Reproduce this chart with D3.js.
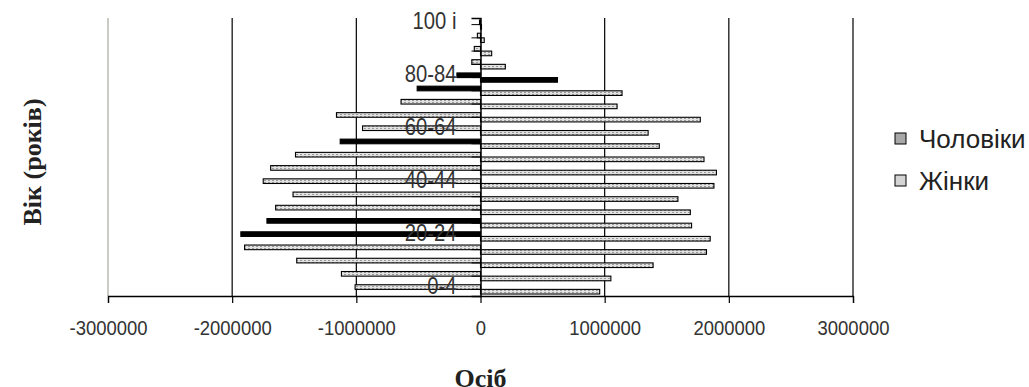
<!DOCTYPE html>
<html lang="uk">
<head>
  <meta charset="UTF-8">
  <title>Вікова піраміда</title>
  <script src="https://d3js.org/d3.v7.min.js"></script>
  <style>
    body { margin: 0; background: #fff; }
    svg { display: block; font-family: 'Liberation Sans', Arial, sans-serif; }
  </style>
</head>
<body>
  <div id="chart"></div>
  <script>
    // age groups, bottom to top
    const ageGroups = ["0-4", "5-9", "10-14", "15-19", "20-24", "25-29", "30-34", "35-39",
      "40-44", "45-49", "50-54", "55-59", "60-64", "65-69", "70-74", "75-79",
      "80-84", "85-89", "90-94", "95-99", "100 і"];
    // men plotted as negative values
    const men = [-1010000, -1120000, -1480000, -1900000, -1930000, -1720000, -1650000, -1510000,
      -1750000, -1690000, -1490000, -1130000, -950000, -1160000, -640000, -510000,
      -190000, -70000, -50000, -25000, -8000];
    const women = [960000, 1050000, 1390000, 1820000, 1850000, 1700000, 1690000, 1590000,
      1880000, 1900000, 1800000, 1440000, 1350000, 1770000, 1100000, 1140000,
      620000, 200000, 90000, 30000, 8000];
    const xTicks = [-3000000, -2000000, -1000000, 0, 1000000, 2000000, 3000000];
    const seriesNames = ["Чоловіки", "Жінки"];

    const W = 1029, H = 387;
    const plot = { left: 108, right: 853, top: 18, bottom: 296 };
    const squeeze = 0.88; // the source picture is a bit narrowed

    const svg = d3.select("#chart").append("svg")
      .attr("width", W).attr("height", H);

    // hatched fill like the old spreadsheet pattern
    const defs = svg.append("defs");
    const pat = defs.append("pattern").attr("id", "hatch")
      .attr("width", 4).attr("height", 2).attr("patternUnits", "userSpaceOnUse");
    pat.append("rect").attr("width", 4).attr("height", 2).attr("fill", "#e2e2e2");
    pat.append("rect").attr("width", 2).attr("height", 1).attr("fill", "#9a9a9a");

    const x = d3.scaleLinear()
      .domain([-3000000, 3000000])
      .range([plot.left, plot.right]);

    const y = d3.scaleBand()
      .domain(ageGroups)
      .range([plot.bottom, plot.top])
      .paddingInner(0.3)
      .paddingOuter(0.15);

    const sub = d3.scaleBand()
      .domain(seriesNames)
      .range([0, y.bandwidth()]);

    // vertical gridlines
    svg.append("g").selectAll("line")
      .data(xTicks.filter(d => d !== 0))
      .join("line")
      .attr("x1", d => x(d)).attr("x2", d => x(d))
      .attr("y1", plot.top).attr("y2", plot.bottom)
      .attr("stroke", d => d === -3000000 ? "#a9a79c" : "#000")
      .attr("stroke-width", 1.2);

    // bars
    const darkMen = [4, 5, 11, 15, 16];
    const darkWomen = [16];

    svg.append("g").selectAll("rect")
      .data(men)
      .join("rect")
      .attr("x", d => x(d))
      .attr("y", (d, i) => y(ageGroups[i]) + sub("Чоловіки"))
      .attr("width", d => x(0) - x(d))
      .attr("height", sub.bandwidth())
      .attr("fill", (d, i) => darkMen.includes(i) ? "#000" : "url(#hatch)")
      .attr("stroke", "#000")
      .attr("stroke-width", 1.1);

    svg.append("g").selectAll("rect")
      .data(women)
      .join("rect")
      .attr("x", x(0))
      .attr("y", (d, i) => y(ageGroups[i]) + sub("Жінки"))
      .attr("width", d => x(d) - x(0))
      .attr("height", sub.bandwidth())
      .attr("fill", (d, i) => darkWomen.includes(i) ? "#000" : "url(#hatch)")
      .attr("stroke", "#000")
      .attr("stroke-width", 1.1);

    // category axis at zero
    const yAxis = svg.append("g")
      .attr("transform", `translate(${x(0)},0)`)
      .call(d3.axisLeft(y)
        .tickSize(9)
        .tickPadding(15)
        .tickFormat((d, i) => i % 4 === 0 ? d : ""));
    yAxis.select(".domain").attr("stroke", "#000").attr("stroke-width", 1.5);
    yAxis.selectAll(".tick line").attr("stroke", "#000");
    yAxis.selectAll("text")
      .attr("fill", "#333")
      .attr("dy", "0.2em")
      .attr("x", -24 / squeeze)
      .attr("transform", `scale(${squeeze},1)`)
      .style("font-size", "23px");

    // value axis
    const xAxis = svg.append("g")
      .attr("transform", `translate(0,${plot.bottom})`)
      .call(d3.axisBottom(x)
        .tickValues(xTicks)
        .tickSize(7)
        .tickPadding(17)
        .tickFormat(d => String(d)));
    xAxis.select(".domain").attr("stroke", "#000").attr("stroke-width", 1.3);
    xAxis.selectAll(".tick line").attr("stroke", "#000").attr("stroke-width", 1.2);
    xAxis.selectAll("text")
      .attr("fill", "#333")
      .attr("transform", `scale(${squeeze},1)`)
      .style("font-size", "21px");

    // axis titles
    svg.append("text")
      .attr("x", x(0)).attr("y", 387)
      .attr("text-anchor", "middle")
      .style("font-family", "'Liberation Serif', 'Times New Roman', serif")
      .style("font-weight", "bold")
      .style("font-size", "26px")
      .attr("fill", "#222")
      .text("Осіб");

    svg.append("text")
      .attr("transform", "translate(41,162) rotate(-90)")
      .attr("text-anchor", "middle")
      .style("font-family", "'Liberation Serif', 'Times New Roman', serif")
      .style("font-weight", "bold")
      .style("font-size", "26px")
      .attr("fill", "#222")
      .text("Вік (років)");

    // legend
    const legend = svg.append("g").attr("transform", "translate(895,133)");
    const swatch = ["#a8a8a8", "#d4d4d4"];
    seriesNames.forEach((name, i) => {
      const g = legend.append("g").attr("transform", `translate(0,${i * 42})`);
      g.append("rect")
        .attr("width", 11).attr("height", 11)
        .attr("fill", swatch[i])
        .attr("stroke", "#000").attr("stroke-width", 1);
      g.append("text")
        .attr("x", 24).attr("y", 15)
        .attr("fill", "#222")
        .style("font-size", "26px")
        .text(name);
    });
  </script>
</body>
</html>
